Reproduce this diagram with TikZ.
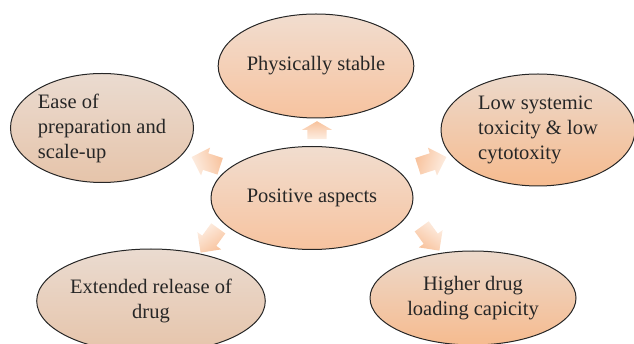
\documentclass[tikz,border=0pt]{standalone}
\usepackage{fontspec}
\setmainfont{Liberation Serif}
\usetikzlibrary{shapes.geometric, shapes.arrows}
\definecolor{rimDark}{HTML}{262626}
\definecolor{taupeTop}{HTML}{EADBD0}
\definecolor{taupeBot}{HTML}{E6C4AA}
\definecolor{peachTop}{HTML}{F1DDCF}
\definecolor{peachBot}{HTML}{F7C39F}
\definecolor{orangeTop}{HTML}{ECD9CB}
\definecolor{orangeBot}{HTML}{F6BB8F}
\definecolor{arrowDeep}{HTML}{F8C29C}
\definecolor{arrowPale}{HTML}{FDEEE3}

\tikzset{
  aspect/.style={ellipse, draw=rimDark, line width=1pt, inner sep=0pt, align=center},
  taupe/.style={top color=taupeTop, bottom color=taupeBot},
  peach/.style={top color=peachTop, bottom color=peachBot},
  amber/.style={top color=orangeTop, bottom color=orangeBot},
  pointer/.style={single arrow, draw=none, inner xsep=0.5pt, inner ysep=8.5pt, minimum height=30pt,
    single arrow head extend=6pt, rotate=#1, left color=arrowDeep, right color=arrowPale,
    shading angle=90-#1}
}

\begin{document}
\begin{tikzpicture}[x=1pt, y=-1pt, font=\fontsize{20.5}{25}\selectfont, text=black!85]
  \useasboundingbox (0,0) rectangle (634,344);
  % outer aspects
  \node[aspect, peach, minimum width=187pt, minimum height=104pt] (phys) at (316,66) {Physically stable};
  \node[aspect, taupe, align=left, minimum width=183pt, minimum height=109pt] (ease) at (102,128) {Ease of\\ preparation and\\ scale-up};
  \node[aspect, amber, align=left, minimum width=194pt, minimum height=112pt] (low) at (538,130) {Low systemic\\ toxicity \& low\\ cytotoxity};
  \node[aspect, taupe, minimum width=200pt, minimum height=104pt] (ext) at (151,301) {Extended release of\\ drug};
  \node[aspect, amber, minimum width=206pt, minimum height=94pt] (higher) at (473,298) {Higher drug\\ loading capicity};
  % centre
  \node[aspect, peach, minimum width=202pt, minimum height=103pt] (pos) at (312,198) {Positive aspects};
  % block arrows
  \node[pointer=90, minimum height=18pt, inner ysep=9.5pt, single arrow head extend=5.5pt,
    single arrow tip angle=120] (toPhys) at (317,133) {};
  \node[pointer=162] (toEase) at (210,163) {};
  \node[pointer=18] (toLow) at (428,163) {};
  \node[pointer=234] (toExt) at (212,237) {};
  \node[pointer=306] (toHigher) at (428,235) {};
\end{tikzpicture}
\end{document}
